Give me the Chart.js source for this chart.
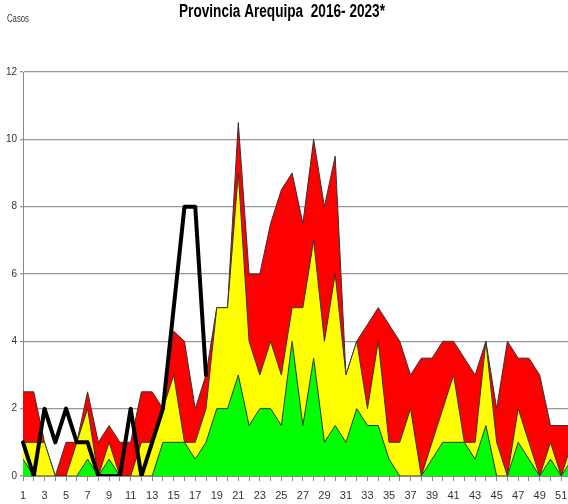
<!DOCTYPE html>
<html><head><meta charset="utf-8">
<script src="https://cdn.jsdelivr.net/npm/chart.js@4.4.1/dist/chart.umd.min.js"></script>
<style>
html,body{margin:0;padding:0;overflow:hidden;background:#fff;width:568px;height:504px}
#wrap{position:absolute;left:0;top:0;width:580px;height:504px}
</style></head><body>
<div id="wrap"><canvas id="c" width="580" height="504"></canvas></div>
<script>
const titleText = 'Provincia Arequipa  2016- 2023*';
const yAxisLabel = 'Casos';
const weeks = [1,2,3,4,5,6,7,8,9,10,11,12,13,14,15,16,17,18,19,20,21,22,23,24,25,26,
  27,28,29,30,31,32,33,34,35,36,37,38,39,40,41,42,43,44,45,46,47,48,49,50,51,52];
// Zona de alarma (límite superior)
const alarmZone = [2.5,2.5,1,0,1,1,2.5,1,1.5,1, 1,2.5,2.5,2,4.3,4,2,3,5,5,
  10.5,6,6,7.5,8.5,9,7.5,10,8,9.5, 3,4,4.5,5,4.5,4,3,3.5,3.5,4,
  4,3.5,3,4,2,4,3.5,3.5,3,1.5, 1.5,1.5];
// Zona de seguridad (mediana)
const securityZone = [1,1,1,0,0,1,2,0,1,0, 0,1,1,2,3,1,1,2,5,5,
  9,4,3,4,3,5,5,7,4,6, 3,4,2,4,1,1,2,0,1,2,
  3,1,1,4,1,0,2,1,0,1, 0,1];
// Zona de éxito (límite inferior)
const successZone = [0.5,0,0,0,0,0,0.5,0,0.5,0, 0,0,0,1,1,1,0.5,1,2,2,
  3,1.5,2,2,1.5,4,1.5,3.5,1,1.5, 1,2,1.5,1.5,0.5,0,0,0,0.5,1,
  1,1,0.5,1.5,0,0,1,0.5,0,0.5, 0,0.5];
// Casos 2023
const cases2023 = [1,0,2,1,2,1,1,0,0,0, 2,0,1,2,5,8,8,3];
const yTicks = [0,2,4,6,8,10,12];

const FONT = '"Liberation Sans Narrow", "Liberation Sans", Arial, sans-serif';

function drawNarrow(ctx, text, font, cx, baseY, targetW, align) {
  ctx.font = font;
  const w = ctx.measureText(text).width;
  const s = Math.min(1, targetW / w);
  ctx.save();
  ctx.translate(cx, baseY);
  ctx.scale(s, 1);
  ctx.textAlign = align;
  ctx.textBaseline = 'alphabetic';
  ctx.fillText(text, 0, 0);
  ctx.restore();
}

const textPlugin = {
  id: 'texts',
  afterDraw(chart) {
    const ctx = chart.ctx;
    ctx.save();
    ctx.fillStyle = '#000';
    drawNarrow(ctx, titleText, 'bold 18px ' + FONT, 282, 17, 206, 'center');
    ctx.fillStyle = '#333';
    drawNarrow(ctx, yAxisLabel, '10px ' + FONT, 7, 22, 22, 'left');
    ctx.restore();
  }
};

const area = (label, data, color) => ({
  label, data, backgroundColor: color, borderColor: '#333', borderWidth: 1,
  fill: 'origin', pointRadius: 0, tension: 0
});

new Chart(document.getElementById('c'), {
  type: 'line',
  data: {
    labels: weeks,
    datasets: [
      { label: '2023', data: cases2023, borderColor: '#000', borderWidth: 4, fill: false,
        pointRadius: 0, tension: 0, borderJoinStyle: 'round', borderCapStyle: 'round' },
      area('Éxito', successZone, '#00ff00'),
      area('Seguridad', securityZone, '#ffff00'),
      area('Alarma', alarmZone, '#ff0000')
    ]
  },
  options: {
    responsive: false,
    animation: false,
    layout: { padding: { left: 0, right: 8, top: 72, bottom: 0 } },
    plugins: { legend: { display: false }, tooltip: { enabled: false }, title: { display: false } },
    scales: {
      x: {
        type: 'category', offset: false,
        grid: { display: true, drawOnChartArea: false, drawTicks: true, tickLength: 5, color: '#888' },
        border: { display: true, color: '#888', width: 1 },
        ticks: { autoSkip: false, maxRotation: 0, minRotation: 0, padding: 8, color: '#333',
          font: { family: FONT, size: 11 },
          callback: (v, i) => (i % 2 === 0 ? String(weeks[i]) : '') },
        afterFit: s => { s.height = 28; }
      },
      y: {
        min: 0, max: 12,
        afterBuildTicks: s => { s.ticks = yTicks.map(v => ({ value: v })); },
        grid: { color: '#999', lineWidth: 1.3, tickLength: 3, drawTicks: true },
        border: { display: true, color: '#888', width: 1 },
        ticks: { padding: 3, color: '#333', font: { family: FONT, size: 10 } },
        afterFit: s => { s.width = 23; }
      }
    }
  },
  plugins: [textPlugin]
});
</script>
</body></html>
